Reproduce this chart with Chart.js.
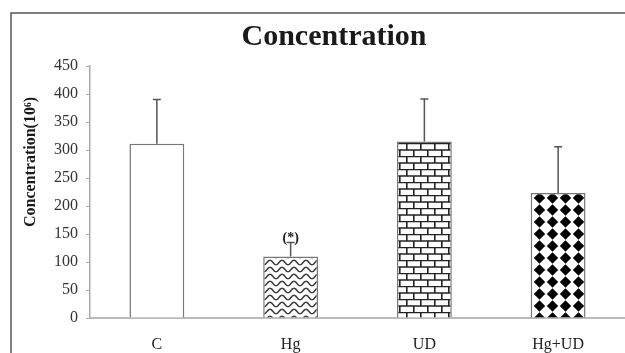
<!DOCTYPE html>
<html>
<head>
<meta charset="utf-8">
<script src="https://cdn.jsdelivr.net/npm/chart.js@4"></script>
<style>
  body { margin: 0; background: #fff; }
  #wrap { width: 625px; height: 353px; position: relative; }
</style>
</head>
<body>
<div id="wrap"><canvas id="chart"></canvas></div>
<script>
// values
const groups = ['C', 'Hg', 'UD', 'Hg+UD'];
const means = [311, 110, 315, 223];
const errors = [79, 25, 76, 83];
const marks = ['', '(*)', '', ''];
const yTicks = [0, 50, 100, 150, 200, 250, 300, 350, 400, 450];

const SERIF = '"Liberation Serif", "Times New Roman", serif';

// fill patterns for the bars
function makeTile(w, h, draw) {
    const c = document.createElement('canvas');
    c.width = w;
    c.height = h;
    const g = c.getContext('2d');
    g.fillStyle = '#fff';
    g.fillRect(0, 0, w, h);
    draw(g, w, h);
    return document.getElementById('chart').getContext('2d').createPattern(c, 'repeat');
}

const wavePattern = makeTile(12, 7, (g, w, h) => {
    g.strokeStyle = '#3a3a3a';
    g.lineWidth = 1.5;
    g.beginPath();
    for (let x = 0; x <= w; x += 0.5) {
        const y = 3.5 + 2.2 * Math.cos(x / w * Math.PI * 2);
        if (x === 0) g.moveTo(x, y); else g.lineTo(x, y);
    }
    g.stroke();
});

const brickPattern = makeTile(14, 13, (g, w, h) => {
    g.strokeStyle = '#222';
    g.lineWidth = 1.6;
    g.beginPath();
    g.moveTo(0, 0.5); g.lineTo(w, 0.5);
    g.moveTo(0, 7); g.lineTo(w, 7);
    g.moveTo(0.8, 0); g.lineTo(0.8, 7);
    g.moveTo(7.8, 7); g.lineTo(7.8, 13);
    g.stroke();
});

const diamondPattern = makeTile(13, 12, (g, w, h) => {
    const cx = w / 2, cy = h / 2, r = 5.7, k = 2.8;
    g.fillStyle = '#000';
    g.beginPath();
    g.moveTo(cx, cy - r);
    g.quadraticCurveTo(cx + k, cy - k, cx + r, cy);
    g.quadraticCurveTo(cx + k, cy + k, cx, cy + r);
    g.quadraticCurveTo(cx - k, cy + k, cx - r, cy);
    g.quadraticCurveTo(cx - k, cy - k, cx, cy - r);
    g.fill();
});

const fills = ['#ffffff', wavePattern, brickPattern, diamondPattern];

// frame, title, y title, error bars
const decorPlugin = {
    id: 'decor',
    beforeDraw(chart) {
        const ctx = chart.ctx;
        ctx.save();
        ctx.fillStyle = '#fff';
        ctx.fillRect(0, 0, chart.width, chart.height);
        ctx.strokeStyle = '#555';
        ctx.lineWidth = 1.5;
        ctx.beginPath();
        ctx.moveTo(11, chart.height);
        ctx.lineTo(11, 13);
        ctx.lineTo(chart.width, 13);
        ctx.stroke();

        ctx.fillStyle = '#1a1a1a';
        ctx.font = 'bold 30px ' + SERIF;
        ctx.textAlign = 'center';
        ctx.textBaseline = 'middle';
        ctx.fillText('Concentration', 334, 37);

        ctx.translate(31, 162);
        ctx.rotate(-Math.PI / 2);
        ctx.font = 'bold 16px ' + SERIF;
        ctx.fillText('Concentration(10\u2076)', 0, 0);
        ctx.restore();
    },
    afterDatasetsDraw(chart) {
        const ctx = chart.ctx;
        const yScale = chart.scales.y;
        const bars = chart.getDatasetMeta(0).data;
        ctx.save();
        ctx.strokeStyle = '#555';
        ctx.lineWidth = 1.5;
        bars.forEach((bar, i) => {
            const top = yScale.getPixelForValue(means[i] + errors[i]);
            ctx.beginPath();
            ctx.moveTo(bar.x, bar.y);
            ctx.lineTo(bar.x, top);
            ctx.moveTo(bar.x - 4, top);
            ctx.lineTo(bar.x + 4, top);
            ctx.stroke();
            if (marks[i]) {
                ctx.fillStyle = '#222';
                ctx.font = 'bold 14px ' + SERIF;
                ctx.textAlign = 'center';
                ctx.textBaseline = 'bottom';
                ctx.fillText(marks[i], bar.x, top + 3);
            }
        });
        ctx.restore();
    }
};

new Chart(document.getElementById('chart'), {
    type: 'bar',
    data: {
        labels: groups,
        datasets: [{
            label: 'Concentration',
            data: means,
            backgroundColor: fills,
            borderColor: '#777',
            borderWidth: 1.5,
            barPercentage: 0.41,
            categoryPercentage: 1
        }]
    },
    options: {
        responsive: true,
        maintainAspectRatio: false,
        animation: false,
        layout: {
            padding: { top: 66, left: 0, right: -2, bottom: 0 }
        },
        scales: {
            x: {
                grid: { display: false },
                border: { color: '#bbb', width: 2 },
                ticks: {
                    color: '#222',
                    padding: 9,
                    font: { family: SERIF, size: 16 }
                },
                afterFit: (scale) => { scale.height = 35; }
            },
            y: {
                min: 0,
                max: 450,
                afterBuildTicks: (scale) => {
                    scale.ticks = yTicks.map(v => ({ value: v }));
                },
                grid: {
                    drawOnChartArea: false,
                    drawTicks: true,
                    tickLength: 4,
                    color: '#aaa'
                },
                border: { color: '#aaa', width: 1.5 },
                ticks: {
                    color: '#333',
                    padding: 8,
                    font: { family: SERIF, size: 16 }
                },
                afterFit: (scale) => { scale.width = 90; }
            }
        },
        plugins: {
            legend: { display: false },
            tooltip: { enabled: false }
        }
    },
    plugins: [decorPlugin]
});
</script>
</body>
</html>
